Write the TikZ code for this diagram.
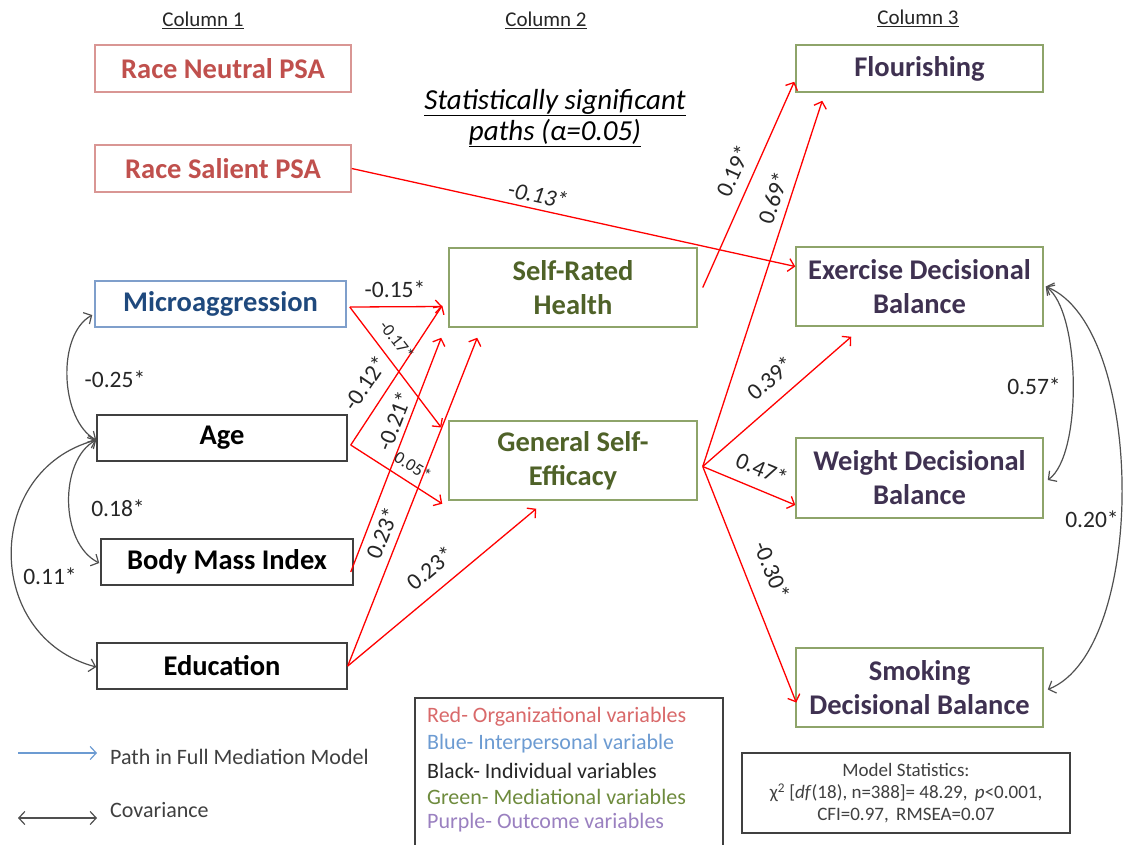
\documentclass[tikz,border=0pt]{standalone}
\usepackage{fontspec}
\setmainfont{Carlito}
\usetikzlibrary{arrows.meta,calc}
\definecolor{redborder}{HTML}{D99694}
\definecolor{redtext}{HTML}{C0504D}
\definecolor{blueborder}{HTML}{7F9FCB}
\definecolor{bluetext}{HTML}{1F497D}
\definecolor{blackborder}{HTML}{404040}
\definecolor{greenborder}{HTML}{8EA46A}
\definecolor{greentext}{HTML}{4F6228}
\definecolor{purpletext}{HTML}{3F3151}
\definecolor{covgrey}{HTML}{505050}
\definecolor{labgrey}{HTML}{262626}
\definecolor{legred}{HTML}{D9696A}
\definecolor{legblue}{HTML}{6C9BD2}
\definecolor{leggreen}{HTML}{6E8B3D}
\definecolor{legpurple}{HTML}{9A80C0}
\definecolor{legtext}{HTML}{404040}
\begin{document}
\begin{tikzpicture}[x=1pt,y=-1pt,
  box/.style={draw, line width=1.5pt, inner sep=0pt, align=center,
    font=\fontsize{28.5}{34}\selectfont\bfseries},
  smallbox/.style={box, minimum width=250pt, minimum height=46pt},
  bigbox/.style={box, minimum width=248pt, minimum height=79pt},
  redbox/.style={smallbox, draw=redborder, text=redtext},
  bluebox/.style={smallbox, draw=blueborder, text=bluetext},
  blackbox/.style={smallbox, draw=blackborder, text=black},
  greenbox/.style={bigbox, draw=greenborder, text=greentext},
  outbox/.style={bigbox, draw=greenborder, text=purpletext},
  pathline/.style={draw=red, line width=1.3pt, -{Straight Barb[length=6pt,width=13pt]}},
  covline/.style={draw=covgrey, line width=1.2pt, {Straight Barb[length=6pt,width=13pt]}-{Straight Barb[length=6pt,width=13pt]}},
  lab/.style={font=\fontsize{23.5}{23.5}\selectfont, text=labgrey, inner sep=0pt},
  smalllab/.style={font=\fontsize{17.5}{17.5}\selectfont, text=labgrey, inner sep=0pt},
  header/.style={font=\fontsize{21}{21}\selectfont, text=labgrey, inner sep=0pt},
  legtxt/.style={font=\fontsize{22}{26}\selectfont, inner sep=0pt, anchor=west}
]
\useasboundingbox (0,0) rectangle (1123,844);
\fill[white] (0,0) rectangle (1123,844);

% headers
\node[header] (h1) at (203,20) {\underline{Column 1}};
\node[header] (h2) at (546,20) {\underline{Column 2}};
\node[header] (h3) at (918,18) {\underline{Column 3}};
\node[font=\fontsize{29}{31}\selectfont\itshape, text=black, align=center, inner sep=0pt] (title) at (555,118)
  {\underline{Statistically significant}\\\underline{paths (α=0.05)}};

% column 1
\node[redbox, minimum width=256pt, minimum height=47pt] (rn) at (223,68.5) {Race Neutral PSA};
\node[redbox, minimum width=256pt, minimum height=47pt] (rs) at (223,168.5) {Race Salient PSA};
\node[bluebox, minimum width=251pt] (mic) at (220.5,304) {Microaggression};
\node[blackbox] (age) at (222,438) {Age};
\node[blackbox, minimum width=252pt] (bmi) at (227,562) {Body Mass Index};
\node[blackbox] (edu) at (222,666) {Education};

% column 2
\node[greenbox] (srh) at (573,287.5) {Self-Rated\\Health};
\node[greenbox] (gse) at (573,460.5) {General Self-\\Efficacy};

% column 3
\node[outbox, minimum width=247pt, minimum height=47pt] (flo) at (919.5,68.5) {Flourishing};
\node[outbox, minimum width=247pt] (exe) at (919.5,286.5) {Exercise Decisional\\Balance};
\node[outbox, minimum width=247pt, minimum height=80pt] (wei) at (919.5,478) {Weight Decisional\\Balance};
\node[outbox, minimum width=247pt] (smo) at (919.5,687.5) {Smoking\\Decisional Balance};

% paths
\draw[pathline] (rs.east) -- ($(exe.west)+(0,-20)$);
\draw[pathline] ($(mic.east)+(3,3)$) -- ($(srh.west)+(-6,19)$);
\draw[pathline] ($(mic.east)+(3,3)$) -- ($(gse.west)+(-7,-33)$);
\draw[pathline] ($(age.east)+(3,7)$) -- ($(srh.west)+(-6,18)$);
\draw[pathline] ($(age.east)+(3,7)$) -- ($(gse.south west)+(-6,3)$);
\draw[pathline] ($(bmi.east)+(-3,10)$) -- ($(srh.south west)+(-7,10)$);
\draw[pathline] (edu.east) -- ($(srh.south west)+(29,10)$);
\draw[pathline] (edu.east) -- ($(gse.south west)+(88,8)$);
\draw[pathline] ($(srh.east)+(5,0)$) -- ($(flo.south west)+(-1,-11)$);
\draw[pathline] ($(gse.east)+(5,6)$) -- ($(flo.south west)+(27,8)$);
\draw[pathline] ($(gse.east)+(5,6)$) -- ($(exe.south west)+(56,10)$);
\draw[pathline] ($(gse.east)+(5,6)$) -- ($(wei.west)+(0,27)$);
\draw[pathline] ($(gse.east)+(5,6)$) -- ($(smo.west)+(1,15)$);

% path labels
\node[lab, font=\fontsize{23.5}{23.5}\selectfont\itshape, rotate=-12] (l13) at (538,195) {-0.13*};
\node[lab] (l15) at (395,289) {-0.15*};
\node[smalllab, rotate=-52] (l17) at (397,340) {-0.17*};
\node[lab, rotate=56] (l12) at (365,383) {-0.12*};
\node[smalllab, rotate=-32] (l05) at (413,466) {0.05*};
\node[lab, rotate=68.6] (l21) at (394,421) {-0.21*};
\node[lab, rotate=68.3] (l23a) at (382,533) {0.23*};
\node[lab, rotate=39.7] (l23b) at (430,568) {0.23*};
\node[lab, rotate=65.7] (l19) at (733,171) {0.19*};
\node[lab, rotate=71.7] (l69) at (773,198) {0.69*};
\node[lab, rotate=41] (l39) at (770,378) {0.39*};
\node[lab, rotate=-22.5] (l47) at (762,469) {0.47*};
\node[lab, rotate=-68] (l30) at (772,570) {-0.30*};

% covariances
\draw[covline] ($(mic.west)+(-2,11)$) .. controls +(-36,20) and +(-36,-20) .. ($(age.west)+(0,2)$);
\draw[covline] ($(age.west)+(0,2)$) .. controls +(-37,20) and +(-40,-20) .. ($(bmi.west)+(-1,1)$);
\draw[covline] ($(age.west)+(0,2)$) .. controls +(-113,30) and +(-113,-30) .. ($(edu.west)+(0,1)$);
\draw[covline] ($(exe.east)+(2,0)$) .. controls +(35,25) and +(35,-25) .. ($(wei.east)+(4,2)$);
\draw[covline] ($(exe.east)+(2,0)$) .. controls +(100,40) and +(100,-40) .. ($(smo.east)+(4,2)$);

\node[lab] (c25) at (115,379) {-0.25*};
\node[lab] (c18) at (118,508) {0.18*};
\node[lab] (c11) at (50,576) {0.11*};
\node[lab] (c57) at (1034,386) {0.57*};
\node[lab] (c20) at (1092,519) {0.20*};

% legend arrows
\coordinate (la1) at (18,753);
\coordinate (la2) at (97,753);
\coordinate (lb1) at (18,818);
\coordinate (lb2) at (97,818);
\draw[draw=legblue, line width=1.2pt, -{Straight Barb[length=6pt,width=13pt]}] (la1) -- (la2);
\draw[covline] (lb1) -- (lb2);
\node[legtxt, text=legtext] (lt1) at (110,757) {Path in Full Mediation Model};
\node[legtxt, text=legtext] (lt2) at (110,810) {Covariance};

% colour legend
\draw[draw=legtext, line width=1.5pt] (415,850) -- (415,698) -- (723,698) -- (723,850);
\node[legtxt, text=legred] (k1) at (427,717) {Red- Organizational variables};
\node[legtxt, text=legblue] (k2) at (427,744) {Blue- Interpersonal variable};
\node[legtxt, text=labgrey] (k3) at (427,771) {Black- Individual variables};
\node[legtxt, text=leggreen] (k4) at (427,797) {Green- Mediational variables};
\node[legtxt, text=legpurple] (k5) at (427,823) {Purple- Outcome variables};

% statistics
\node[draw=legtext, line width=2pt, minimum width=328pt, minimum height=80pt, align=center,
  font=\fontsize{19}{22}\selectfont, text=legtext, inner sep=0pt] (stats) at (906,793)
  {Model Statistics:\\χ\textsuperscript{2} [\textit{df}(18), n=388]= 48.29,\, \textit{p}<0.001,\\CFI=0.97,\, RMSEA=0.07};
\end{tikzpicture}
\end{document}
